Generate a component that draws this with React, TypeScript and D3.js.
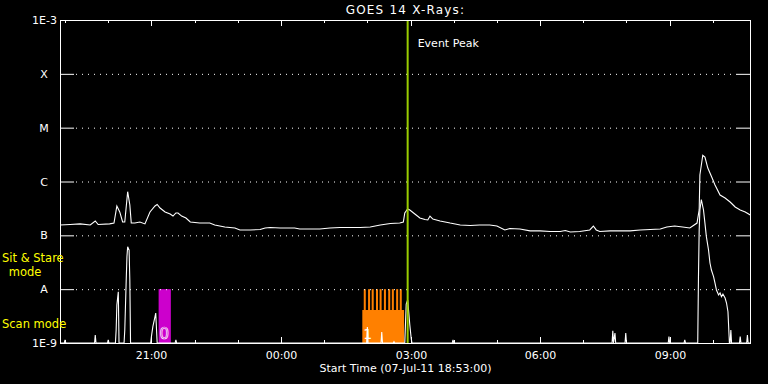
import React from "react";
import * as d3 from "d3";

const TITLE = "GOES 14 X-Rays:";
const START = "2011-07-07T18:53:00Z";
const END = "2011-07-08T10:53:00Z";
const X_LABEL = "Start Time (07-Jul-11 18:53:00)";
const CLASS_LEVELS = [1e-8, 1e-7, 1e-6, 1e-5, 1e-4];
const CLASS_LABELS = ["A", "B", "C", "M", "X"];
const EVENT_PEAK = "02:56";

// 1-8 Angstrom long channel
const longTimes = ["18:53","19:07","19:21","19:35","19:42","19:46","20:02","20:08","20:12","20:16","20:20","20:23","20:27","20:30","20:32","20:37","20:44","20:51","20:58","21:05","21:08","21:12","21:19","21:26","21:30","21:34","21:37","21:42","21:48","21:54","22:07","22:21","22:28","22:42","22:56","23:03","23:17","23:31","23:38","23:45","23:59","00:19","00:26","00:40","00:54","01:08","01:22","01:36","01:50","02:04","02:18","02:32","02:45","02:50","02:52","02:56","02:59","03:06","03:13","03:20","03:24","03:27","03:31","03:41","03:55","04:09","04:23","04:36","04:50","05:00","05:11","05:18","05:32","05:46","06:00","06:14","06:28","06:35","06:42","06:55","07:09","07:14","07:18","07:23","07:37","07:51","08:05","08:19","08:33","08:47","08:56","09:07","09:18","09:28","09:38","09:41","09:42","09:46","09:49","09:53","09:59","10:03","10:10","10:17","10:24","10:31","10:38","10:45","10:52"];
const longFlux = [1.56e-7,1.59e-7,1.63e-7,1.56e-7,1.85e-7,1.59e-7,1.63e-7,1.69e-7,3.51e-7,2.72e-7,1.77e-7,1.77e-7,6.47e-7,3.67e-7,1.69e-7,1.69e-7,1.77e-7,1.63e-7,2.72e-7,3.51e-7,3.74e-7,3.22e-7,2.72e-7,2.49e-7,2.28e-7,2.6e-7,2.6e-7,2.28e-7,2.1e-7,1.77e-7,1.69e-7,1.69e-7,1.56e-7,1.43e-7,1.37e-7,1.26e-7,1.26e-7,1.28e-7,1.37e-7,1.4e-7,1.37e-7,1.37e-7,1.31e-7,1.31e-7,1.31e-7,1.37e-7,1.4e-7,1.4e-7,1.4e-7,1.43e-7,1.56e-7,1.66e-7,1.69e-7,1.77e-7,2.6e-7,3.08e-7,2.96e-7,2.49e-7,2.1e-7,1.97e-7,1.93e-7,2.28e-7,2.01e-7,1.85e-7,1.69e-7,1.56e-7,1.52e-7,1.56e-7,1.56e-7,1.49e-7,1.26e-7,1.34e-7,1.31e-7,1.21e-7,1.21e-7,1.18e-7,1.18e-7,1.23e-7,1.15e-7,1.18e-7,1.26e-7,1.49e-7,1.26e-7,1.18e-7,1.21e-7,1.21e-7,1.21e-7,1.26e-7,1.28e-7,1.31e-7,1.43e-7,1.49e-7,1.43e-7,1.37e-7,1.69e-7,2.96e-7,1.32e-6,3.07e-6,2.85e-6,1.78e-6,1.16e-6,8.61e-7,5.61e-7,4.94e-7,4.16e-7,3.36e-7,2.96e-7,2.72e-7,2.39e-7];

// 0.5-4 Angstrom short channel (floor at 1E-9)
const shortTimes = ["18:53","18:59","19:00","19:01","19:41","19:42","19:43","19:59","20:00","20:01","20:10","20:11","20:12","20:14","20:15","20:22","20:23","20:25","20:26","20:27","20:29","20:30","20:31","20:59","21:00","21:02","21:05","21:06","21:08","21:33","21:34","21:35","01:59","02:00","02:01","02:19","02:20","02:21","02:36","02:37","02:38","02:52","02:54","02:56","02:59","03:01","03:02","03:58","03:59","04:00","07:40","07:41","07:42","07:44","07:45","07:58","07:59","08:00","08:58","08:59","09:00","09:20","09:21","09:22","09:39","09:40","09:41","09:42","09:44","09:47","09:49","09:51","09:54","09:56","09:58","10:01","10:03","10:05","10:08","10:10","10:12","10:14","10:17","10:19","10:21","10:23","10:24","10:25","10:26","10:37","10:38","10:39","10:47","10:48","10:49","10:53"];
const shortFlux = [1e-9,1e-9,1.14e-9,1e-9,1e-9,1.41e-9,1e-9,1e-9,1.14e-9,1e-9,1e-9,1.74e-9,5.08e-9,8.97e-9,1e-9,1e-9,1.74e-9,1.48e-8,4.01e-8,6.15e-8,5.34e-8,1.48e-8,1e-9,1e-9,1.31e-9,2.01e-9,3.08e-9,3.61e-9,1e-9,1e-9,1.14e-9,1e-9,1e-9,1.98e-9,1e-9,1e-9,1.6e-9,1e-9,1e-9,1.06e-9,1e-9,1e-9,5.3e-9,6.29e-9,2.16e-9,1.19e-9,1e-9,1e-9,1.14e-9,1e-9,1e-9,1.69e-9,1e-9,1.53e-9,1e-9,1e-9,1.53e-9,1e-9,1e-9,1.31e-9,1e-9,1e-9,1.14e-9,1e-9,1e-9,1.59e-8,1.26e-7,2.96e-7,4.63e-7,2.96e-7,1.69e-7,9.44e-8,5.34e-8,3.06e-8,2.27e-8,1.71e-8,1.3e-8,9.66e-9,7.8e-9,8.49e-9,7.25e-9,8.1e-9,6.86e-9,5.53e-9,3.81e-9,1e-9,1e-9,1.74e-9,1e-9,1e-9,1.31e-9,1e-9,1e-9,1.41e-9,1e-9,1e-9];

// Sit & stare interval (mode 0)
const stareStart = "21:10";
const stareEnd = "21:27";
const stareTop = 1e-8;
// Scan mode interval (mode 1)
const scanStart = "01:53";
const scanEnd = "02:51";
const scanTop = 4.1e-9;
const scanStripeStarts = ["01:55","02:01","02:06","02:12","02:17","02:23","02:29","02:34","02:40","02:45"];
const scanStripeMinutes = 4.2;
const scanStripeTop = 1e-8;

function parseT(s: string): Date {
  const [h, m] = s.split(":").map(Number);
  const day = h >= 18 ? 7 : 8;
  return new Date(Date.UTC(2011, 6, day, h, m));
}

const W = 768, H = 384;
const L = 60, R = 751, T = 20, B = 343;
const FONT = "'DejaVu Sans', sans-serif";

export default function App() {
  const x = d3.scaleUtc().domain([new Date(START), new Date(END)]).range([L, R]);
  const y = d3.scaleLog().domain([1e-9, 1e-3]).range([B, T]).clamp(true);

  const longData = longTimes.map((t, i) => [parseT(t), longFlux[i]] as [Date, number]);
  const shortData = shortTimes.map((t, i) => [parseT(t), shortFlux[i]] as [Date, number]);
  const line = d3.line<[Date, number]>().x(d => x(d[0])).y(d => y(d[1]));

  const hours = d3.utcHour.range(new Date(START), new Date(END));
  const isMajor = (d: Date) => d.getUTCHours() % 3 === 0;
  const fmt = d3.utcFormat("%H:%M");

  const gridPts: number[] = d3.range(L + 16, R - 13, 6);

  const evX = x(parseT(EVENT_PEAK));
  const stripeW = x(new Date(parseT("00:00").getTime() + scanStripeMinutes * 60000)) - x(parseT("00:00"));

  return (
    <div style={{ position: "fixed", left: 0, top: 0, width: W, height: H, background: "#000" }}>
      <svg width={W} height={H} style={{ display: "block", background: "#000" }} fontFamily={FONT}>
        <rect x={0} y={0} width={W} height={H} fill="#000" />
        <text x={(L + R) / 2} y={14} fill="#fff" fontSize={12} letterSpacing={1.2} textAnchor="middle">{TITLE}</text>

        {/* mode blocks */}
        <rect x={x(parseT(stareStart))} y={y(stareTop)} width={x(parseT(stareEnd)) - x(parseT(stareStart))}
          height={B - y(stareTop)} fill="#cc00cc" />
        <text x={x(parseT(stareStart)) + 1} y={B - 4} fill="none" stroke="#fff" strokeWidth={0.7} fontSize={15}>0</text>
        <rect x={x(parseT(scanStart))} y={y(scanTop)} width={x(parseT(scanEnd)) - x(parseT(scanStart))}
          height={B - y(scanTop)} fill="#ff8000" />
        {scanStripeStarts.map((s, i) => (
          <rect key={i} x={x(parseT(s))} y={y(scanStripeTop)} width={stripeW - 1} height={B - y(scanStripeTop)} fill="#ff8000" />
        ))}
        <text x={x(parseT(scanStart)) + 1} y={B - 4} fill="#fff" fontSize={14}>1</text>

        {/* gridlines and class ticks */}
        {CLASS_LEVELS.map((v, i) => (
          <g key={i}>
            <line x1={L} x2={L + 14} y1={y(v) + 0.5} y2={y(v) + 0.5} stroke="#fff" />
            <line x1={R - 14} x2={R} y1={y(v) + 0.5} y2={y(v) + 0.5} stroke="#fff" />
            {gridPts.map((gx, j) => (
              <rect key={j} x={gx} y={y(v)} width={1} height={1} fill="#fff" />
            ))}
            <text x={44} y={y(v) + 4} fill="#fff" fontSize={11} textAnchor="middle">{CLASS_LABELS[i]}</text>
          </g>
        ))}
        <text x={57} y={T + 4} fill="#fff" fontSize={11} textAnchor="end">1E-3</text>
        <text x={57} y={B + 4} fill="#fff" fontSize={11} textAnchor="end">1E-9</text>

        {/* curves */}
        <path d={line(longData) || ""} fill="none" stroke="#fff" strokeWidth={1.1} />
        <path d={line(shortData) || ""} fill="none" stroke="#fff" strokeWidth={1.1} />

        {/* event peak */}
        <line x1={evX} x2={evX} y1={T} y2={B} stroke="#99cc00" strokeWidth={2} />
        <text x={evX + 10} y={47} fill="#fff" fontSize={11}>Event Peak</text>

        {/* frame */}
        <rect x={L + 0.5} y={T + 0.5} width={R - L - 1} height={B - T} fill="none" stroke="#fff" strokeWidth={1} />
        {hours.map((h, i) => {
          const hx = Math.round(x(h)) + 0.5;
          const len = isMajor(h) ? 6 : 3;
          return (
            <g key={i}>
              <line x1={hx} x2={hx} y1={T} y2={T + len} stroke="#fff" />
              <line x1={hx} x2={hx} y1={B} y2={B - len} stroke="#fff" />
              {isMajor(h) && (
                <text x={hx} y={359} fill="#fff" fontSize={11} textAnchor="middle">{fmt(h)}</text>
              )}
            </g>
          );
        })}
        <text x={(L + R) / 2} y={372} fill="#fff" fontSize={11} textAnchor="middle">{X_LABEL}</text>

        {/* mode labels */}
        <text x={2} y={262} fill="#ffff00" fontSize={11.5}>Sit &amp; Stare</text>
        <text x={25} y={276} fill="#ffff00" fontSize={11.5} textAnchor="middle">mode</text>
        <text x={2} y={328} fill="#ffff00" fontSize={11.5}>Scan mode</text>
      </svg>
    </div>
  );
}
